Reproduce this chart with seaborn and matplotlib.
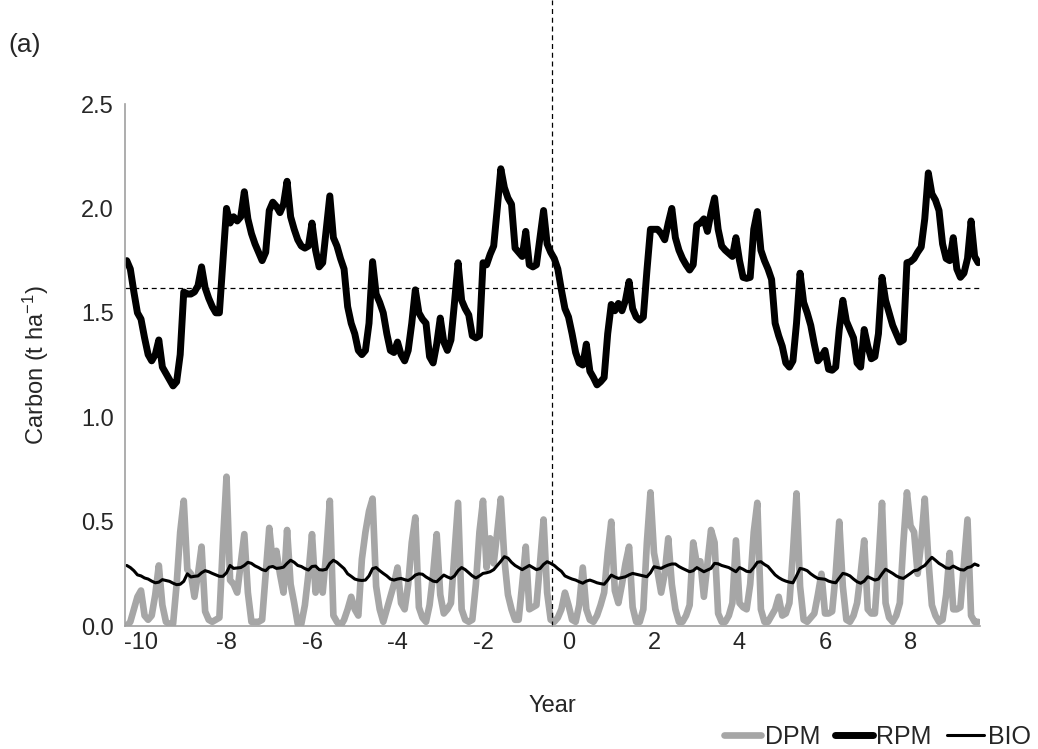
import matplotlib
matplotlib.use("Agg")
import matplotlib.pyplot as plt
import numpy as np
import pandas as pd
import seaborn as sns
from matplotlib.lines import Line2D

# monthly values, year -10 .. +10 (240 months)
rpm = [
    1.75, 1.71, 1.60, 1.50, 1.47, 1.38, 1.30, 1.27, 1.30, 1.37, 1.24, 1.21,
    1.18, 1.15, 1.17, 1.30, 1.60, 1.59, 1.59, 1.60, 1.63, 1.72, 1.62, 1.57,
    1.53, 1.50, 1.50, 1.75, 2.00, 1.93, 1.96, 1.94, 1.96, 2.08, 1.95, 1.88,
    1.83, 1.79, 1.75, 1.79, 1.99, 2.03, 2.01, 1.98, 2.02, 2.13, 1.96, 1.90,
    1.85, 1.82, 1.81, 1.82, 1.93, 1.80, 1.72, 1.74, 1.90, 2.06, 1.86, 1.82,
    1.76, 1.71, 1.53, 1.45, 1.40, 1.32, 1.30, 1.32, 1.45, 1.745, 1.59, 1.55,
    1.50, 1.40, 1.32, 1.31, 1.36, 1.30, 1.27, 1.32, 1.45, 1.61, 1.50, 1.47,
    1.45, 1.29, 1.26, 1.35, 1.475, 1.36, 1.32, 1.37, 1.55, 1.74, 1.56, 1.52,
    1.49, 1.39, 1.38, 1.39, 1.74, 1.73, 1.78, 1.82, 2.00, 2.19, 2.10, 2.05,
    2.02, 1.81, 1.79, 1.77, 1.89, 1.73, 1.72, 1.73, 1.86, 1.99, 1.83, 1.79,
    1.76, 1.71, 1.61, 1.52, 1.48, 1.40, 1.31, 1.26, 1.25, 1.35, 1.22, 1.19,
    1.155, 1.17, 1.19, 1.40, 1.54, 1.51, 1.545, 1.51, 1.56, 1.65, 1.52, 1.48,
    1.465, 1.48, 1.70, 1.90, 1.90, 1.90, 1.88, 1.85, 1.93, 2.00, 1.86, 1.80,
    1.76, 1.73, 1.705, 1.73, 1.92, 1.93, 1.95, 1.89, 1.98, 2.05, 1.90, 1.82,
    1.80, 1.785, 1.77, 1.86, 1.75, 1.67, 1.665, 1.67, 1.90, 1.985, 1.80, 1.75,
    1.71, 1.66, 1.45, 1.39, 1.34, 1.26, 1.24, 1.27, 1.45, 1.69, 1.55, 1.50,
    1.44, 1.35, 1.27, 1.29, 1.32, 1.23, 1.225, 1.24, 1.42, 1.56, 1.46, 1.42,
    1.38, 1.26, 1.24, 1.42, 1.34, 1.28, 1.29, 1.40, 1.67, 1.56, 1.50, 1.44,
    1.40, 1.36, 1.37, 1.74, 1.745, 1.76, 1.79, 1.815, 1.95, 2.17, 2.07, 2.04,
    1.99, 1.83, 1.76, 1.75, 1.86, 1.71, 1.67, 1.69, 1.76, 1.94, 1.77, 1.74,
]

dpm = [
    0.00, 0.02, 0.08, 0.14, 0.17, 0.05, 0.03, 0.05, 0.15, 0.29, 0.10, 0.02,
    0.01, 0.01, 0.20, 0.45, 0.60, 0.27, 0.25, 0.14, 0.25, 0.38, 0.07, 0.03,
    0.02, 0.03, 0.04, 0.40, 0.715, 0.22, 0.20, 0.16, 0.30, 0.44, 0.16, 0.02,
    0.02, 0.02, 0.03, 0.25, 0.47, 0.30, 0.36, 0.25, 0.16, 0.46, 0.20, 0.11,
    0.01, 0.01, 0.10, 0.25, 0.44, 0.16, 0.25, 0.16, 0.35, 0.60, 0.05, 0.02,
    0.00, 0.03, 0.08, 0.14, 0.08, 0.05, 0.32, 0.45, 0.55, 0.61, 0.19, 0.08,
    0.02, 0.08, 0.14, 0.20, 0.28, 0.11, 0.08, 0.20, 0.40, 0.52, 0.09, 0.04,
    0.02, 0.10, 0.25, 0.44, 0.15, 0.06, 0.08, 0.11, 0.35, 0.59, 0.08, 0.03,
    0.02, 0.03, 0.20, 0.45, 0.60, 0.28, 0.42, 0.30, 0.45, 0.61, 0.32, 0.15,
    0.08, 0.03, 0.03, 0.20, 0.38, 0.08, 0.09, 0.10, 0.30, 0.51, 0.16, 0.03,
    0.02, 0.04, 0.08, 0.16, 0.10, 0.03, 0.02, 0.10, 0.28, 0.08, 0.03, 0.02,
    0.05, 0.10, 0.16, 0.35, 0.50, 0.17, 0.11, 0.20, 0.30, 0.38, 0.09, 0.02,
    0.02, 0.08, 0.40, 0.64, 0.35, 0.26, 0.16, 0.25, 0.42, 0.20, 0.08, 0.02,
    0.02, 0.05, 0.10, 0.40, 0.30, 0.31, 0.14, 0.30, 0.46, 0.40, 0.06, 0.02,
    0.02, 0.05, 0.11, 0.41, 0.11, 0.09, 0.08, 0.20, 0.45, 0.59, 0.08, 0.02,
    0.02, 0.05, 0.08, 0.14, 0.05, 0.06, 0.11, 0.35, 0.635, 0.19, 0.03, 0.02,
    0.04, 0.06, 0.15, 0.25, 0.06, 0.06, 0.07, 0.25, 0.50, 0.19, 0.03, 0.02,
    0.05, 0.11, 0.25, 0.41, 0.08, 0.06, 0.06, 0.30, 0.59, 0.11, 0.04, 0.02,
    0.05, 0.11, 0.40, 0.64, 0.48, 0.45, 0.25, 0.40, 0.61, 0.32, 0.10, 0.05,
    0.02, 0.03, 0.15, 0.35, 0.08, 0.08, 0.09, 0.30, 0.51, 0.05, 0.02, 0.02,
]

bio = [
    0.29, 0.28, 0.265, 0.245, 0.24, 0.23, 0.225, 0.215, 0.207, 0.21, 0.222, 0.218,
    0.214, 0.205, 0.198, 0.20, 0.214, 0.25, 0.235, 0.238, 0.24, 0.255, 0.265, 0.26,
    0.252, 0.245, 0.238, 0.238, 0.255, 0.29, 0.276, 0.278, 0.28, 0.29, 0.305, 0.30,
    0.288, 0.28, 0.27, 0.265, 0.282, 0.285, 0.276, 0.278, 0.282, 0.30, 0.315, 0.305,
    0.29, 0.285, 0.275, 0.268, 0.285, 0.287, 0.27, 0.268, 0.272, 0.30, 0.315, 0.305,
    0.29, 0.275, 0.25, 0.238, 0.225, 0.22, 0.218, 0.22, 0.24, 0.275, 0.28, 0.265,
    0.252, 0.24, 0.225, 0.22, 0.225, 0.228, 0.222, 0.218, 0.228, 0.244, 0.25, 0.248,
    0.235, 0.225, 0.215, 0.212, 0.228, 0.244, 0.235, 0.228, 0.24, 0.265, 0.28, 0.27,
    0.255, 0.24, 0.23, 0.24, 0.252, 0.255, 0.26, 0.27, 0.29, 0.31, 0.332, 0.325,
    0.305, 0.29, 0.28, 0.27, 0.28, 0.29, 0.28, 0.27, 0.275, 0.295, 0.308, 0.30,
    0.29, 0.275, 0.262, 0.24, 0.232, 0.225, 0.22, 0.212, 0.205, 0.215, 0.22, 0.214,
    0.207, 0.203, 0.20, 0.22, 0.244, 0.235, 0.228, 0.232, 0.236, 0.245, 0.252, 0.248,
    0.244, 0.24, 0.236, 0.255, 0.284, 0.28, 0.276, 0.285, 0.292, 0.297, 0.297, 0.285,
    0.276, 0.268, 0.26, 0.265, 0.28, 0.27, 0.26, 0.268, 0.276, 0.30, 0.298, 0.29,
    0.285, 0.28, 0.27, 0.26, 0.28, 0.272, 0.262, 0.26, 0.28, 0.305, 0.308, 0.295,
    0.285, 0.265, 0.245, 0.232, 0.222, 0.215, 0.21, 0.207, 0.24, 0.276, 0.272, 0.265,
    0.25, 0.238, 0.228, 0.226, 0.224, 0.215, 0.21, 0.207, 0.23, 0.252, 0.248, 0.24,
    0.225, 0.212, 0.205, 0.215, 0.236, 0.228, 0.22, 0.225, 0.25, 0.272, 0.262, 0.252,
    0.24, 0.232, 0.228, 0.24, 0.252, 0.265, 0.268, 0.28, 0.29, 0.31, 0.329, 0.315,
    0.30, 0.29, 0.278, 0.276, 0.287, 0.278, 0.27, 0.268, 0.28, 0.284, 0.297, 0.29,
]

year_labels = ["-10", "-8", "-6", "-4", "-2", "0", "2", "4", "6", "8"]
rpm_mean = 1.62

n_months = len(rpm)
df = pd.DataFrame({
    "month": np.arange(n_months) + 0.5,
    "DPM": dpm,
    "RPM": rpm,
    "BIO": bio,
})

sns.set_style("white")
plt.rcParams["font.family"] = ["Liberation Sans", "DejaVu Sans"]

fs = 17
fig = plt.figure(figsize=(10.38, 7.49), dpi=100)
ax = fig.add_axes([0.1204, 0.1642, 0.8237, 0.6969])

grey = "#A6A6A6"
sns.lineplot(data=df, x="month", y="DPM", color=grey, lw=4.8, ax=ax)
sns.lineplot(data=df, x="month", y="BIO", color="black", lw=2.2, ax=ax)
sns.lineplot(data=df, x="month", y="RPM", color="black", lw=5.0, ax=ax)

# reference lines
ax.axhline(rpm_mean, color="black", lw=0.9, ls=(0, (4, 3)))
ax.plot([n_months / 2, n_months / 2], [0, 3.0], color="black", lw=0.9,
        ls=(0, (4, 3)), clip_on=False)

ax.set_xlim(0, n_months)
ax.set_ylim(0, 2.5)
ax.set_yticks(np.arange(0, 2.51, 0.5))
ax.set_yticklabels([f"{v:.1f}" for v in np.arange(0, 2.51, 0.5)], fontsize=fs)

# tick marks on year boundaries, labels every two years
ax.set_xticks(np.arange(0, n_months + 1, 12))
ax.set_xticklabels([])
ax.set_xticks(np.arange(len(year_labels)) * 24 + 4.5, minor=True)
ax.set_xticklabels(year_labels, minor=True, fontsize=fs)
ax.tick_params(axis="x", which="major", length=7, width=1, color="#A0A0A0",
               direction="out")
ax.tick_params(axis="x", which="minor", length=0, pad=4)
ax.tick_params(axis="y", length=0, pad=8)

for side in ["top", "right"]:
    ax.spines[side].set_visible(False)
for side in ["left", "bottom"]:
    ax.spines[side].set_color("#A0A0A0")
    ax.spines[side].set_linewidth(1.2)

ax.set_xlabel("Year", fontsize=fs, labelpad=30)
ax.set_ylabel("Carbon (t ha$\\mathregular{^{-1}}$)", fontsize=fs, labelpad=22)

fig.text(0.008, 0.93, "(a)", fontsize=19)

handles = [
    Line2D([], [], color=grey, lw=4.8),
    Line2D([], [], color="black", lw=5.0),
    Line2D([], [], color="black", lw=2.2),
]
fig.legend(handles, ["DPM", "RPM", "BIO"], loc="lower right",
           bbox_to_anchor=(1.015, -0.03), ncol=3, frameon=False, fontsize=18,
           handlelength=1.5, handletextpad=0.15, columnspacing=0.6)

fig.savefig("out.png", dpi=100)
